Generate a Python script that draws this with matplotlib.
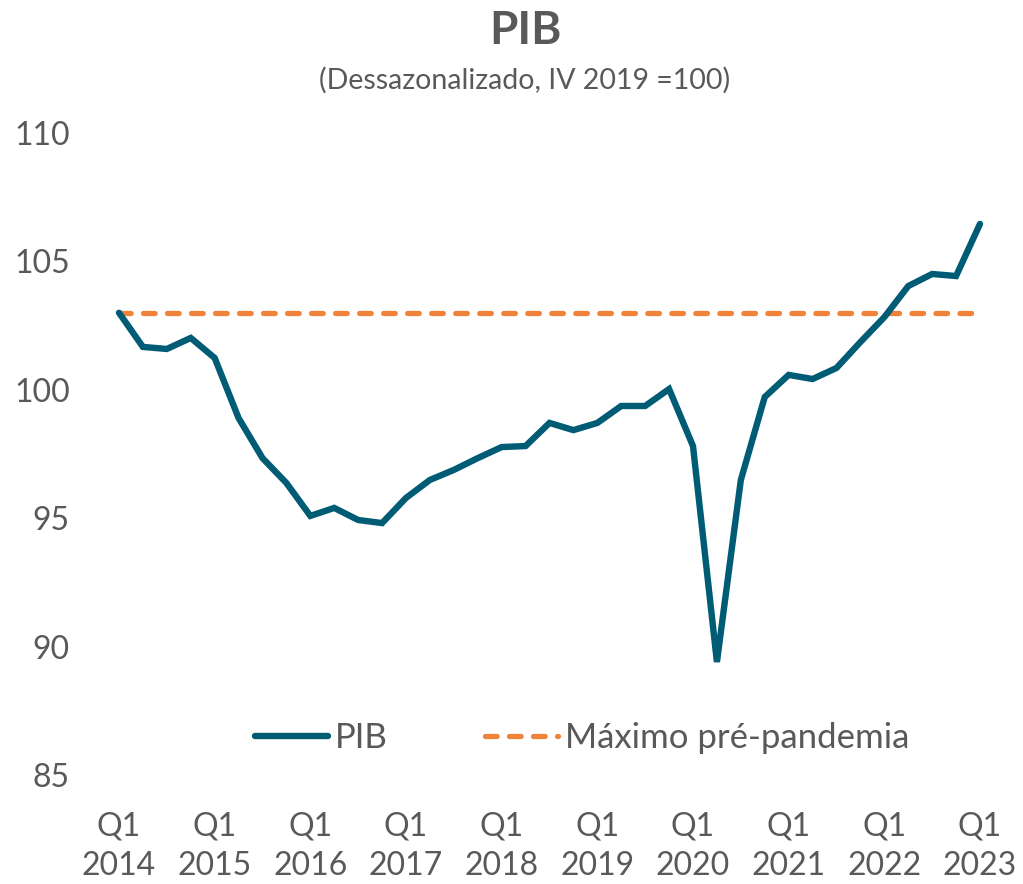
import matplotlib
matplotlib.use("Agg")
import matplotlib.pyplot as plt

plt.rcParams['font.family'] = ['Lato', 'DejaVu Sans']

quarters = [f"Q{q}\n{y}" for y in range(2014, 2024) for q in range(1, 5)][:37]
pib = [103.0, 101.67, 101.59, 102.02, 101.24, 98.90, 97.34, 96.37,
       95.09, 95.40, 94.93, 94.81, 95.79, 96.49, 96.88, 97.34,
       97.77, 97.81, 98.71, 98.43, 98.71, 99.37, 99.37, 100.03,
       97.81, 89.40, 96.49, 99.72, 100.58, 100.42, 100.85, 101.86,
       102.83, 104.04, 104.51, 104.43, 106.46]
max_pre = 103.0
yticks = [85, 90, 95, 100, 105, 110]

teal = '#005B74'
orange = '#F0823A'
grey = '#595959'

fig = plt.figure(figsize=(10.23, 8.84), dpi=100)
W, H = 1023, 884
ax = fig.add_axes([95 / W, 1 - 775 / H, (1005 - 95) / W, (775 - 133) / H])

x = list(range(len(pib)))
ax.plot(x, pib, color=teal, lw=4.6, solid_joinstyle='miter', solid_capstyle='round',
        label='PIB', zorder=3)
ax.plot(x, [max_pre] * len(x), color=orange, lw=3.8, dashes=(2.2, 2.35),
        dash_capstyle='round', label='Máximo pré-pandemia', zorder=2)

step = (980 - 119) / 36
ax.set_xlim(-(119 - 95) / step, 36 + (1005 - 980) / step)
ax.set_ylim(85, 110)
ax.set_yticks(yticks)
ax.set_yticklabels([str(v) for v in yticks], fontsize=23, color=grey)
ticks = list(range(0, 37, 4))
ax.set_xticks(ticks)
ax.set_xticklabels([quarters[i] for i in ticks], fontsize=23, color=grey, linespacing=1.4)
ax.tick_params(length=0)
ax.tick_params(axis='x', pad=26)
ax.tick_params(axis='y', pad=18)
for s in ax.spines.values():
    s.set_visible(False)

leg = ax.legend(loc='center', bbox_to_anchor=(0.535, (775 - 738) / (775 - 133)), ncol=2,
                frameon=False, fontsize=25, handlelength=2.1, columnspacing=2.8,
                handletextpad=0.2)
for t in leg.get_texts():
    t.set_color(grey)

fig.text(525 / W, 1 - 31 / H, 'PIB', ha='center', va='center', fontsize=33,
         fontweight='bold', color=grey)
fig.text(525 / W, 1 - 80 / H, '(Dessazonalizado, IV 2019 =100)', ha='center', va='center',
         fontsize=20.5, color=grey)

fig.savefig('out.png', dpi=100)
